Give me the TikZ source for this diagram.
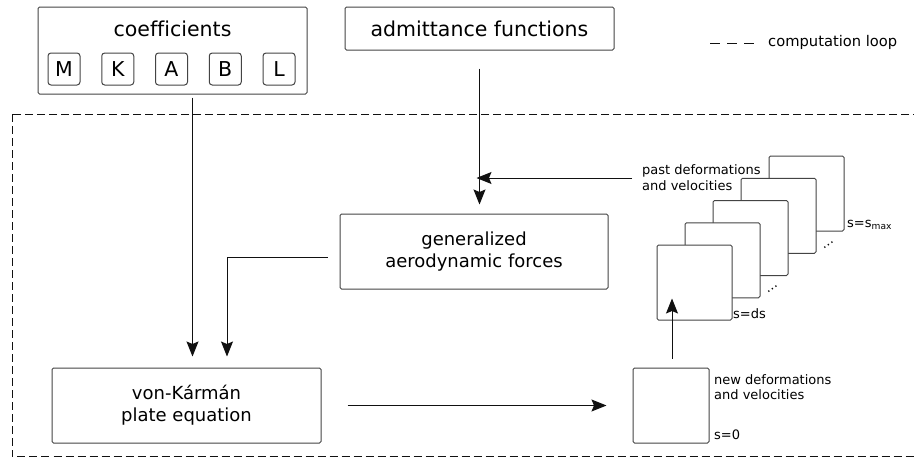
\documentclass[tikz,border=0pt]{standalone}
\usepackage{fontspec}
\setmainfont{DejaVu Sans}
\usepackage{tikz}
\usetikzlibrary{arrows.meta,calc}
\definecolor{fg}{HTML}{111111}
\definecolor{edge}{HTML}{444444}

\begin{document}
\begin{tikzpicture}[x=1pt,y=-1pt,
    box/.style={draw=edge,line width=1pt,rounded corners=1.5pt,fill=white,
      inner sep=0pt,align=center,font=\fontsize{18}{22}\selectfont},
    title/.style={font=\fontsize{20.5}{24}\selectfont\addfontfeatures{Ligatures=NoCommon}},
    key/.style={box,title,rounded corners=3pt,minimum size=32pt},
    small/.style={inner sep=0pt,align=left,font=\fontsize{13}{15.7}\selectfont},
    flow/.style={draw=fg,line width=1pt,-{Stealth[length=15pt,width=12pt,inset=2.5pt]}},
    loopline/.style={draw=fg,line width=1pt,dash pattern=on 8pt off 4pt}]
  \useasboundingbox (0,0) rectangle (914,458);

  % computation loop and legend
  \draw[loopline] (12,114) rectangle (940,456.5);
  \draw[draw=fg,line width=1pt,dash pattern=on 10pt off 7pt] (710,43) -- (757,43);
  \node[small,anchor=west,font=\fontsize{14.7}{17}\selectfont] (legend) at (768,42) {computation loop};

  % inputs
  \node[box,minimum width=269pt,minimum height=87pt] (coeffs) at (172.5,50.5) {};
  \node[inner sep=0pt,title] (coeffslbl) at (172.5,29) {coefficients};
  \foreach \c [count=\i] in {M,K,A,B,L}
    \node[key] (c\c) at ({64+53.75*(\i-1)},69) {\c};
  \node[box,title,minimum width=269pt,minimum height=43pt] (admit) at (479.5,28.5) {admittance functions};

  % main blocks
  \node[box,minimum width=268pt,minimum height=75pt] (gen) at (474,251.5)
    {generalized\\aerodynamic forces};
  \node[box,minimum width=269pt,minimum height=75pt] (von) at (186.5,405.5)
    {von-Kármán\\plate equation};
  \node[box,minimum width=76pt,minimum height=75pt] (s0) at (671,405.5) {};

  % stack of past states, back to front
  \foreach \k in {4,3,2,1,0}
    \node[box,minimum size=75pt] (stack\k) at ({694.5+28*\k},{282.5-22.25*\k}) {};
  \node[small,anchor=west] (past) at (642,178) {past deformations\\and velocities};
  \node[small,anchor=west] (newlbl) at (714,387) {new deformations\\and velocities};
  \node[small,anchor=west] (s0lbl) at (714,435) {s=0};
  \node[small,anchor=west] (dslbl) at (733,314) {s=ds};
  \node[small,anchor=west] (maxlbl) at (847,225) {s=s\textsubscript{max}};
  \node[small,rotate=35] (dotsa) at ([xshift=12pt,yshift=9pt]stack1.south east) {\dots};
  \node[small,rotate=35] (dotsb) at ([xshift=12pt,yshift=9pt]stack3.south east) {\dots};

  % connectors
  \draw[flow,shorten <=3pt,shorten >=11pt] ([xshift=20pt]coeffs.south)
    -- ([xshift=20pt]coeffs.south |- von.north);
  \draw[flow,shorten <=18pt,shorten >=9pt] (admit.south) -- (admit.south |- gen.north);
  \draw[flow,shorten >=-3pt] ([xshift=-10pt]past.west) -- (past.west -| admit.south);
  \draw[flow,shorten <=12pt,shorten >=11pt] ([yshift=-5.5pt]gen.west)
    -| ([xshift=40.5pt]von.north);
  \draw[flow,shorten <=26pt,shorten >=26pt] (von.east) -- (s0.west);
  \draw[flow,shorten <=9pt,shorten >=-22pt] ([xshift=1pt]s0.north)
    -- ([xshift=1pt]s0.north |- stack0.south);
\end{tikzpicture}
\end{document}
